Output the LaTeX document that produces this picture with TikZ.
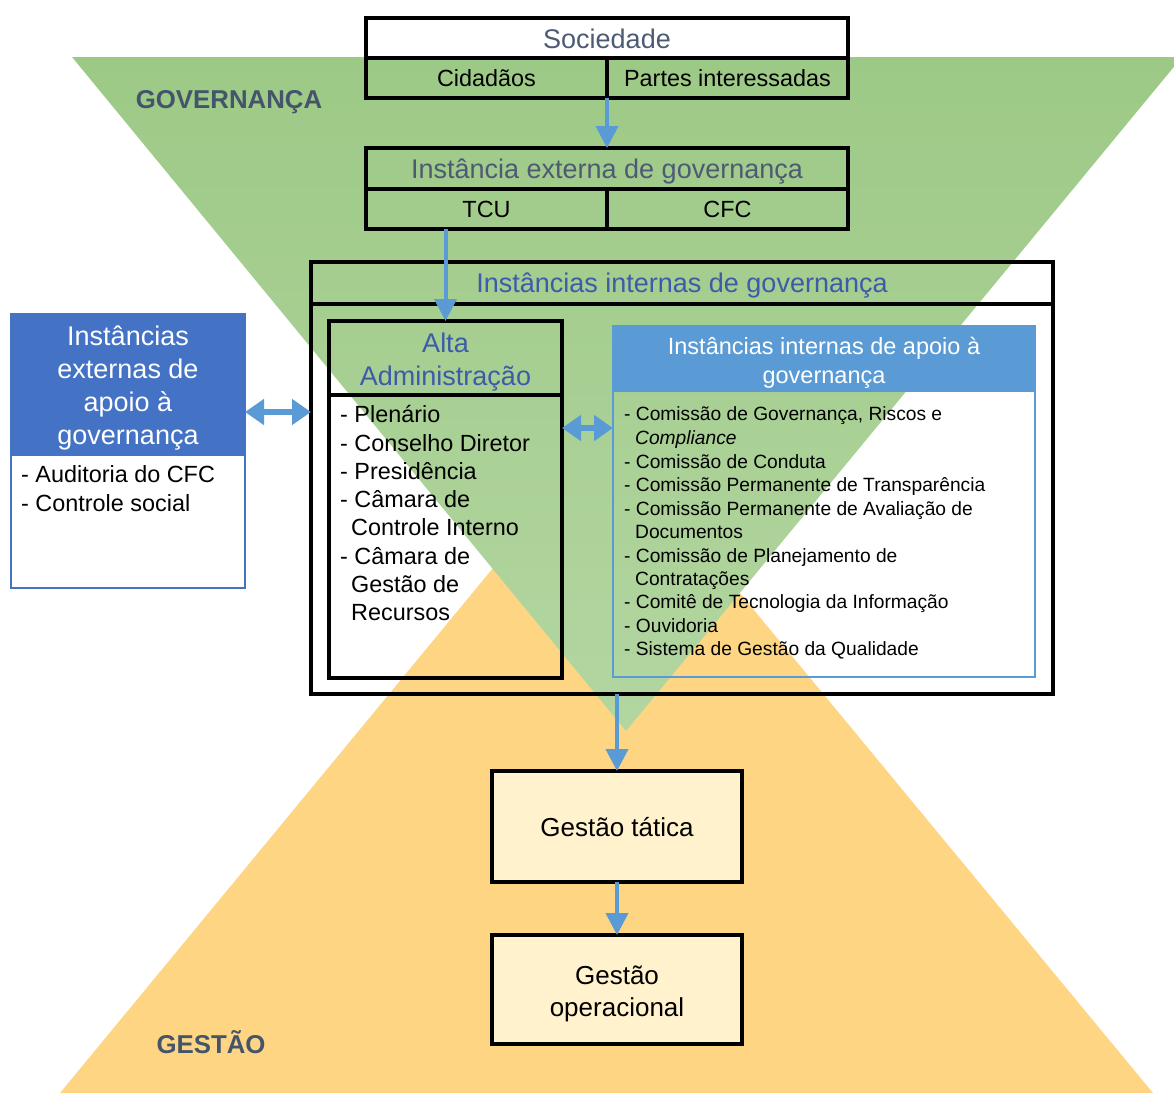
\documentclass[tikz,border=0pt]{standalone}
\usepackage{fontspec}
\setmainfont{Liberation Sans}
\usetikzlibrary{arrows.meta}
\definecolor{gtop}{HTML}{9DC986}
\definecolor{gbot}{HTML}{B3D6A1}
\definecolor{orng}{HTML}{FED583}
\definecolor{arrblue}{HTML}{5B9BD5}
\definecolor{hdblue}{HTML}{4472C4}
\definecolor{slate}{HTML}{44546A}
\definecolor{greyblue}{HTML}{4D5A74}
\definecolor{midblue}{HTML}{3D5BA9}
\definecolor{cream}{HTML}{FFF2CC}
\newcommand\myfs[1]{\fontsize{#1}{#1}\selectfont}
\begin{document}
\begin{tikzpicture}[x=1pt,y=-1pt,
  rbox/.style 2 args={rectangle, inner sep=0pt, outer sep=0pt, minimum width=#1, minimum height=#2},
  thick box/.style={draw=black, line width=4pt},
  lbl/.style={inner sep=0pt, anchor=base},
  lbll/.style={inner sep=0pt, anchor=base west},
  arr/.style={draw=arrblue, line width=4pt, -{Triangle[width=22pt,length=22pt]}},
  dbl/.style={draw=arrblue, line width=6pt, {Triangle[width=25pt,length=19pt]}-{Triangle[width=25pt,length=19pt]}},
  biglabel/.style={inner sep=0pt, anchor=base, font=\myfs{25.8}\bfseries, text=slate}
]
\useasboundingbox (0,0) rectangle (1174,1093);
\clip (0,0) rectangle (1174,1093);

% background triangles
\fill[orng] (60,1093) -- (1153,1093) -- (606,431) -- cycle;
\shade[top color=gtop, bottom color=gbot] (72,57) -- (1182,57) -- (626,731) -- cycle;

\node[biglabel] (gov) at (229,108.3) {GOVERNANÇA};
\node[biglabel] (ges) at (211,1053.3) {GESTÃO};

% Sociedade
\node[rbox={482}{40}, thick box, fill=white] (soc) at (607,38) {};
\node[rbox={241}{40}, thick box] (cid) at (486.5,78) {};
\node[rbox={241}{40}, thick box] (par) at (727.5,78) {};
\node[lbl, font=\myfs{27}, text=greyblue] (soct) at (607,48.7) {Sociedade};
\node[lbl, font=\myfs{23.4}] (cidt) at (486.5,86.5) {Cidadãos};
\node[lbl, font=\myfs{23.4}] (part) at (727.5,86.5) {Partes interessadas};

% Instancia externa
\node[rbox={482}{41}, thick box] (ext) at (607,168.5) {};
\node[rbox={241}{40}, thick box] (tcu) at (486.5,209) {};
\node[rbox={241}{40}, thick box] (cfc) at (727.5,209) {};
\node[lbl, font=\myfs{27}, text=greyblue] (extt) at (607,178.7) {Instância externa de governança};
\node[lbl, font=\myfs{23.4}] (tcut) at (486.5,217.4) {TCU};
\node[lbl, font=\myfs{23.4}] (cfct) at (727.5,217.4) {CFC};

% Instancias internas
\node[rbox={742}{432}, thick box] (intbox) at (682,478) {};
\node[rbox={742}{42}, thick box] (inthead) at (682,283) {};
\node[lbl, font=\myfs{27}, text=midblue] (intt) at (682,292.7) {Instâncias internas de governança};

% Alta Administracao
\node[rbox={233}{357}, thick box] (alta) at (445.5,499.5) {};
\node[rbox={233}{74}, thick box] (altahead) at (445.5,358) {};
\node[lbl, font=\myfs{27}, text=midblue] (altat1) at (445.5,352.7) {Alta};
\node[lbl, font=\myfs{27}, text=midblue] (altat2) at (445.5,385.7) {Administração};
\foreach \ly/\lx/\lt [count=\i] in {422.4/340/{- Plenário}, 451.4/340/{- Conselho Diretor}, 479.4/340/{- Presidência}, 507.4/340/{- Câmara de}, 535.4/351/{Controle Interno}, 564.4/340/{- Câmara de}, 592.4/351/{Gestão de}, 620.4/351/{Recursos}}
  \node[lbll, font=\myfs{23.4}] (al\i) at (\lx,\ly) {\lt};

% Apoio interno
\node[rbox={422}{351}, draw=arrblue, line width=2pt] (apoio) at (824,501.5) {};
\node[rbox={422}{65}, draw=arrblue, fill=arrblue, line width=2pt] (apoiohead) at (824,358.5) {};
\node[lbl, font=\myfs{23.5}, text=white] (apt1) at (824,354.5) {Instâncias internas de apoio à};
\node[lbl, font=\myfs{23.5}, text=white] (apt2) at (824,383.5) {governança};
\foreach \ly/\lx/\lt [count=\i] in {420/624/{- Comissão de Governança, Riscos e}, 444/635/{\itshape Compliance}, 468/624/{- Comissão de Conduta}, 491/624/{- Comissão Permanente de Transparência}, 515/624/{- Comissão Permanente de Avaliação de}, 538/635/{Documentos}, 562/624/{- Comissão de Planejamento de}, 585/635/{Contratações}, 608/624/{- Comitê de Tecnologia da Informação}, 632/624/{- Ouvidoria}, 655/624/{- Sistema de Gestão da Qualidade}}
  \node[lbll, font=\myfs{19.2}] (ap\i) at (\lx,\ly) {\lt};

% Left box
\node[rbox={234}{274}, draw=hdblue, fill=white, line width=2pt] (left) at (128,451) {};
\node[rbox={234}{141}, draw=hdblue, fill=hdblue, line width=2pt] (lefthead) at (128,384.5) {};
\foreach \ly/\lt [count=\i] in {345.7/{Instâncias}, 378.7/{externas de}, 411.7/{apoio à}, 444.7/{governança}}
  \node[lbl, font=\myfs{27}, text=white] (lh\i) at (128,\ly) {\lt};
\node[lbll, font=\myfs{23.4}] (ll1) at (21,482.4) {- Auditoria do CFC};
\node[lbll, font=\myfs{23.4}] (ll2) at (21,511.4) {- Controle social};

% Gestao boxes
\node[rbox={250}{111}, thick box, fill=cream] (tat) at (617,826.5) {};
\node[lbl, font=\myfs{26}] (tatt) at (617,836.4) {Gestão tática};
\node[rbox={250}{109}, thick box, fill=cream] (ope) at (617,989.5) {};
\node[lbl, font=\myfs{26}] (opet1) at (617,984.4) {Gestão};
\node[lbl, font=\myfs{26}] (opet2) at (617,1016.4) {operacional};

% connectors
\coordinate (yl) at (0,412);
\coordinate (yr) at (0,428);
\draw[arr] (cid.south east) -- (ext.north);
\draw[arr] (alta.north |- tcu.south) -- (alta.north);
\draw[arr] (tat.north |- intbox.south) -- (tat.north);
\draw[arr] (tat.south) -- (ope.north);
\draw[dbl] (left.east |- yl) -- (intbox.west |- yl);
\draw[dbl] (alta.east |- yr) -- (apoio.west |- yr);
\end{tikzpicture}
\end{document}
